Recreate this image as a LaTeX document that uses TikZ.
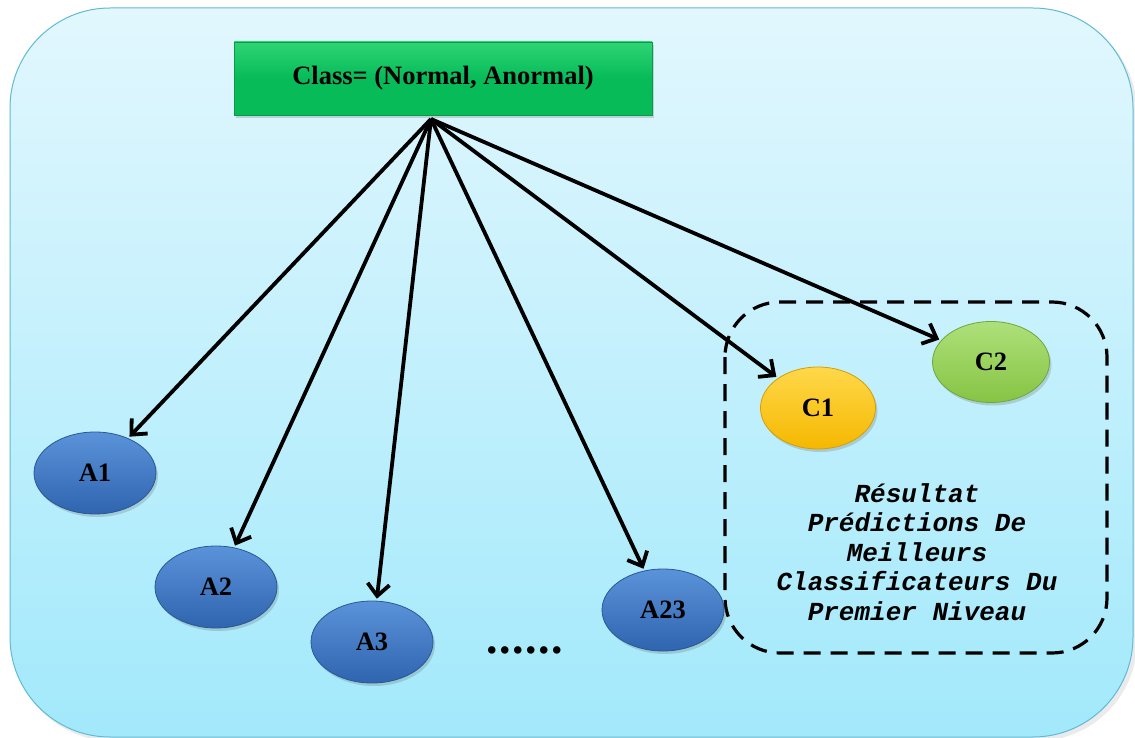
\documentclass[tikz,border=0pt]{standalone}
\usepackage{fontspec}
\setmainfont{Liberation Serif}
\newfontfamily\monofont{Liberation Mono}
\usetikzlibrary{arrows.meta,shadows,shapes.geometric}

\definecolor{bgtop}{HTML}{E2F7FE}
\definecolor{bgbot}{HTML}{A2E9FB}
\definecolor{bgline}{HTML}{5FBAD4}
\definecolor{boxgreen}{HTML}{06BB58}
\definecolor{boxgreenlt}{HTML}{2FD474}
\definecolor{boxedge}{HTML}{0A9A48}
\definecolor{attrtop}{HTML}{5B93DA}
\definecolor{attrbot}{HTML}{2F64AE}
\definecolor{attredge}{HTML}{2A5796}
\definecolor{c1top}{HTML}{FFD84A}
\definecolor{c1bot}{HTML}{F5B800}
\definecolor{c1edge}{HTML}{D79E00}
\definecolor{c2top}{HTML}{AEE07A}
\definecolor{c2bot}{HTML}{86C444}
\definecolor{c2edge}{HTML}{6FA73A}

\tikzset{
  x=1pt, y=-1pt,
  softshadow/.style={drop shadow={shadow xshift=2pt, shadow yshift=-3pt, opacity=0.25, fill=black!60}},
  attr/.style={ellipse, minimum width=122pt, minimum height=82pt, inner sep=0pt,
    top color=attrtop, bottom color=attrbot, draw=attredge, line width=0.8pt, softshadow,
    font=\fontsize{26.5}{26.5}\selectfont\bfseries},
  cls/.style={ellipse, minimum width=115pt, minimum height=82pt, inner sep=0pt,
    line width=0.8pt, softshadow, font=\fontsize{26.5}{26.5}\selectfont\bfseries},
  link/.style={-{Straight Barb[length=12pt,width=22pt]}, line width=3.8pt, shorten >=2pt},
}

\begin{document}
\begin{tikzpicture}
\useasboundingbox (0,0) rectangle (1135,738);

% panel
\begin{scope}
  \clip (0,0) rectangle (1135,738);
  \fill[black, opacity=0.08, rounded corners=100pt] (13,12) rectangle (1137,741);
  \path[top color=bgtop, bottom color=bgbot, draw=bgline, line width=1pt, rounded corners=100pt]
    (10,8) rectangle (1133,737);
\end{scope}

% class box
\node[draw=boxedge, line width=0.8pt, top color=boxgreenlt, bottom color=boxgreen,
      middle color=boxgreen, minimum width=418pt, minimum height=73pt, softshadow,
      font=\fontsize{26.5}{26.5}\selectfont\bfseries]
  (class) at (443,78.5) {Class= (Normal, Anormal)};
\coordinate (src) at (431,119);

% first-level classifiers group
\draw[line width=3.2pt, dash pattern=on 17pt off 10pt, rounded corners=55pt]
  (725,302) rectangle (1107,653);

% attribute nodes
\node[attr] (a1)  at (95,473)  {A1};
\node[attr] (a2)  at (216,587) {A2};
\node[attr] (a3)  at (372,642) {A3};
\node[attr] (a23) at (663,610) {A23};

% classifier nodes
\node[cls, top color=c1top, bottom color=c1bot, draw=c1edge] (c1) at (818,408) {C1};
\node[cls, top color=c2top, bottom color=c2bot, draw=c2edge, minimum width=117pt, minimum height=81pt] (c2) at (991,362) {C2};

% ellipsis
\node[inner sep=0pt, font=\fontsize{46}{46}\selectfont\bfseries] (dots) at (525,650)
  {.\kern1.5pt.\kern1.5pt.\kern1.5pt.\kern1.5pt.\kern1.5pt.};

% caption
\node[align=center, inner sep=0pt, font=\monofont\fontsize{26}{29.5}\selectfont\bfseries\itshape]
  (caption) at (917,552)
  {Résultat\\Prédictions De\\Meilleurs\\Classificateurs Du\\Premier Niveau};

% connectors
\foreach \t in {a1,a2,a3,a23,c1,c2}
  \draw[link] (src) -- (\t);

\end{tikzpicture}
\end{document}
